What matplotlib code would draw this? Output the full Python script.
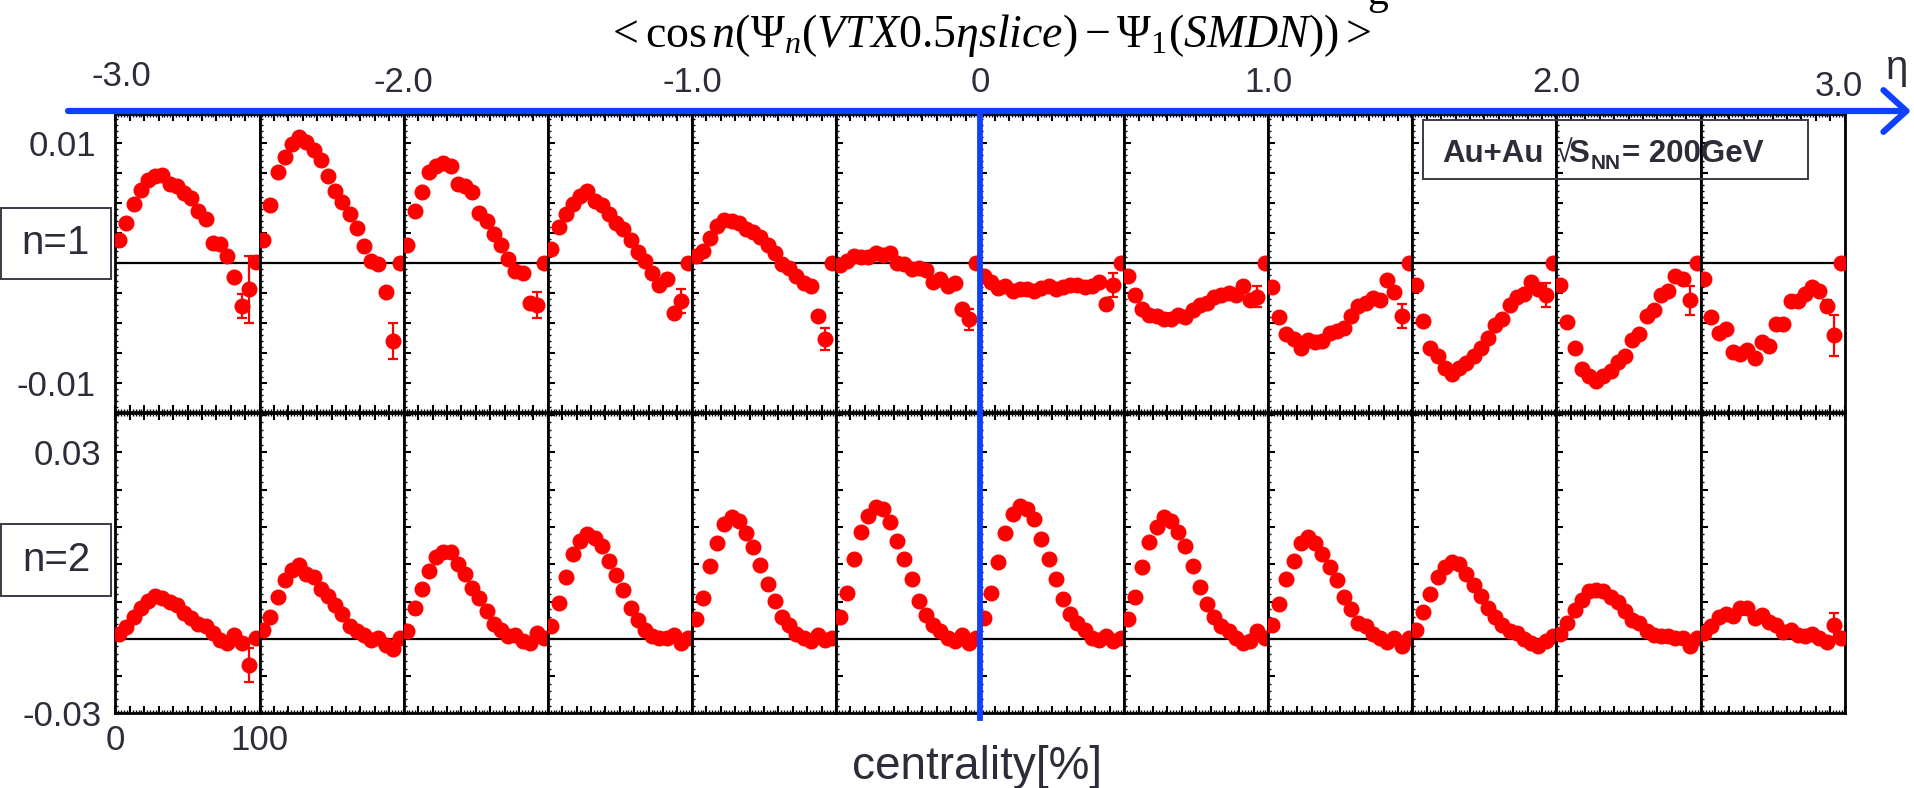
# -*- coding: utf-8 -*-
"""<cos n(Psi_n(VTX 0.5 eta slice) - Psi_1(SMDN))> vs centrality, 12 eta slices x 2 harmonics."""
import numpy as np
import matplotlib
matplotlib.use("Agg")
import matplotlib.pyplot as plt
from matplotlib.patches import Rectangle, FancyArrowPatch
from matplotlib.lines import Line2D
from matplotlib.ticker import MultipleLocator

plt.rcParams["font.family"] = ["Liberation Sans", "DejaVu Sans"]
plt.rcParams["mathtext.fontset"] = "custom"
plt.rcParams["mathtext.rm"] = "Liberation Serif"
plt.rcParams["mathtext.it"] = "Liberation Serif:italic"
plt.rcParams["mathtext.bf"] = "Liberation Sans:bold"

# centrality bin centres (%), same in every eta slice
CENT = np.arange(2.5, 100, 5)

# eta axis
ETA_TICKS = [-3.0, -2.0, -1.0, 0.0, 1.0, 2.0, 3.0]
ETA_LABELS = ["-3.0", "-2.0", "-1.0", "0", "1.0", "2.0", "3.0"]

# n=1, one list per 0.5 eta slice (from eta=-3 to 3), values x 1e-3
COS1 = [
    [1.9, 3.3, 4.9, 6.1, 6.9, 7.2, 7.3, 6.6, 6.4, 5.8, 5.4, 4.3, 3.7, 1.7, 1.6, 0.6, -1.2, -3.6, -2.2, 0.1],
    [1.9, 4.8, 7.6, 8.8, 9.9, 10.5, 10.1, 9.4, 8.6, 7.2, 6.0, 5.1, 4.1, 2.9, 1.4, 0.2, -0.1, -2.4, -6.5, 0.0],
    [1.5, 4.3, 5.9, 7.6, 8.1, 8.3, 8.1, 6.6, 6.4, 5.9, 4.2, 3.5, 2.4, 1.5, 0.3, -0.7, -0.8, -3.3, -3.5, 0.0],
    [1.2, 3.0, 4.1, 4.9, 5.6, 6.0, 5.2, 4.8, 4.1, 3.3, 2.8, 1.9, 0.9, 0.2, -0.8, -1.8, -1.3, -4.2, -3.2, 0.0],
    [0.6, 1.0, 2.1, 3.1, 3.6, 3.5, 3.3, 2.8, 2.6, 2.2, 1.5, 0.8, -0.1, -0.4, -1.1, -1.7, -1.9, -4.4, -6.3, 0.0],
    [-0.2, 0.2, 0.6, 0.5, 0.5, 0.8, 0.7, 0.8, 0.0, -0.1, -0.5, -0.4, -0.6, -1.6, -1.3, -1.9, -1.7, -3.8, -4.7, 0.0],
    [-1.1, -1.6, -2.1, -1.9, -2.3, -2.2, -2.2, -2.3, -2.1, -1.9, -2.2, -2.0, -1.8, -1.8, -2.0, -1.9, -1.6, -3.4, -1.8, 0.0],
    [-1.1, -2.7, -3.8, -4.3, -4.4, -4.7, -4.7, -4.3, -4.5, -3.9, -3.5, -3.3, -2.8, -2.7, -2.5, -2.7, -1.9, -3.1, -2.8, 0.0],
    [-2.0, -4.5, -5.9, -6.3, -7.1, -6.4, -6.6, -6.5, -5.8, -5.7, -5.4, -4.4, -3.6, -3.3, -2.9, -3.1, -1.4, -2.4, -4.4, 0.0],
    [-1.8, -4.8, -7.1, -7.7, -8.7, -9.2, -8.7, -8.3, -7.7, -7.1, -6.2, -5.2, -4.7, -3.5, -2.8, -2.6, -1.6, -2.2, -2.7, 0.0],
    [-1.8, -4.9, -7.1, -8.8, -9.4, -9.8, -9.4, -9.0, -8.2, -7.7, -6.4, -5.9, -4.4, -3.9, -2.7, -2.3, -1.1, -1.3, -3.1, 0.0],
    [-1.3, -4.5, -5.8, -5.5, -7.4, -7.6, -7.2, -7.9, -6.6, -6.9, -5.1, -5.1, -3.2, -3.2, -2.6, -2.0, -2.3, -3.6, -6.0, 0.0],
]
# visible error bars: (slice, point, err x 1e-3)
ERR1 = [(0, 17, 1.0), (0, 18, 2.8), (1, 18, 1.5), (2, 18, 1.1), (3, 18, 1.0), (4, 18, 0.9),
        (5, 18, 0.9), (6, 18, 1.0), (7, 18, 0.9), (8, 18, 1.0), (9, 18, 1.0), (10, 18, 1.2),
        (11, 17, 0.5), (11, 18, 1.7)]

# n=2, values x 1e-3
COS2 = [
    [0.8, 1.9, 3.6, 4.9, 6.1, 6.9, 6.6, 6.0, 5.4, 4.1, 3.4, 2.4, 2.0, 0.9, -0.2, -0.7, 0.6, -0.6, -4.2, 0.1],
    [1.4, 3.6, 6.8, 9.4, 11.0, 11.8, 10.5, 10.0, 8.1, 6.9, 5.4, 4.0, 2.0, 1.2, 0.6, -0.2, 0.1, -0.9, -1.6, 0.1],
    [1.3, 4.9, 8.0, 10.9, 13.2, 14.0, 14.0, 12.1, 10.4, 8.2, 6.6, 4.5, 2.4, 1.4, 0.4, 0.6, -0.4, -0.7, 0.9, 0.1],
    [2.0, 5.7, 10.0, 13.6, 15.7, 16.8, 16.2, 15.0, 12.5, 10.2, 7.8, 5.0, 3.0, 1.4, 0.5, 0.1, 0.2, 0.6, -0.6, 0.1],
    [3.2, 6.5, 11.7, 15.4, 18.4, 19.6, 19.0, 17.0, 14.7, 11.8, 8.8, 6.1, 3.5, 2.2, 0.8, 0.1, -0.4, 0.6, -0.2, 0.1],
    [3.6, 7.4, 12.8, 17.2, 19.7, 21.2, 20.9, 18.8, 15.7, 12.9, 9.6, 6.1, 3.8, 2.2, 1.3, 0.1, -0.3, 0.6, -0.7, 0.1],
    [3.4, 7.4, 12.3, 17.0, 20.0, 21.4, 20.8, 19.2, 16.1, 12.8, 9.7, 6.4, 4.0, 2.5, 1.4, 0.1, -0.2, 0.4, -0.4, 0.1],
    [3.2, 6.8, 11.6, 15.6, 18.0, 19.6, 18.9, 17.2, 15.0, 11.7, 8.4, 5.6, 3.5, 2.1, 1.2, 0.1, -0.7, -0.4, 1.3, 0.1],
    [2.2, 5.6, 9.7, 12.6, 15.4, 16.3, 15.4, 13.7, 11.6, 9.4, 6.7, 4.8, 2.5, 2.0, 0.8, 0.1, -0.5, 0.1, -1.2, 0.1],
    [1.4, 4.4, 7.2, 9.9, 11.6, 12.4, 12.1, 10.4, 8.6, 6.9, 4.9, 3.6, 2.2, 1.3, 0.9, 0.0, -0.7, -1.1, -0.4, 0.5],
    [0.8, 2.5, 4.6, 6.2, 7.7, 7.8, 7.7, 6.8, 5.9, 4.5, 3.0, 2.5, 1.3, 0.6, 0.5, 0.4, 0.1, 0.1, -1.2, 0.1],
    [0.9, 2.0, 3.6, 4.0, 3.7, 4.9, 5.0, 3.3, 3.8, 2.8, 2.2, 1.1, 1.4, 0.6, 0.5, 0.8, 0.1, -0.5, 2.2, 0.1],
]
ERR2 = [(0, 18, 2.7), (1, 18, 0.7), (11, 18, 1.9)]

RED = "#ff0000"
BLUE = "#1040ff"
TXT = "#2d2d3a"
W, H = 1915, 788


def fx(px):
    return px / W


def fy(py):
    return 1 - py / H


fig = plt.figure(figsize=(W / 100, H / 100), dpi=100)

L0, PW = 115.5, 144.1
rows = [
    dict(vals=COS1, errs=ERR1, top=114, bot=412, ylim=(-0.0124, 0.0124), major=0.0025),
    dict(vals=COS2, errs=ERR2, top=413, bot=713, ylim=(-0.0119, 0.0363), major=0.006),
]

for r, row in enumerate(rows):
    axes = []
    for i in range(12):
        ax = fig.add_axes([fx(L0 + i * PW), fy(row["bot"]), PW / W, (row["bot"] - row["top"]) / H])
        ax.axhline(0, color="black", lw=1.6, zorder=1)
        ax.plot(CENT, np.array(row["vals"][i]) * 1e-3, "o", color=RED, ms=10.5, mec=RED, zorder=3)
        ax.set_xlim(0, 100)
        ax.set_ylim(*row["ylim"])
        ax.xaxis.set_major_locator(MultipleLocator(10))
        ax.xaxis.set_minor_locator(MultipleLocator(2))
        ax.yaxis.set_major_locator(MultipleLocator(row["major"]))
        ax.yaxis.set_minor_locator(MultipleLocator(row["major"] / 5))
        ax.tick_params(which="both", direction="in", top=True, bottom=True, left=True, right=False,
                       labelleft=False, labelbottom=False, colors="black", labelcolor=TXT)
        ax.tick_params(which="major", length=5, width=1.5)
        ax.tick_params(which="minor", length=2.5, width=1.0)
        for s in ax.spines.values():
            s.set_linewidth(2.0)
        axes.append(ax)
    for p, k, e in row["errs"]:
        axes[p].errorbar(CENT[k], row["vals"][p][k] * 1e-3, yerr=e * 1e-3, fmt="none", ecolor=RED,
                         elinewidth=1.6, capsize=3.5, capthick=1.6, zorder=2)

    ax0 = axes[0]
    if r == 0:
        yt = np.arange(-0.01, 0.0101, 0.0025)
        ax0.set_yticks(yt, ["-0.01"] + [""] * (len(yt) - 2) + ["0.01"])
        ax0.tick_params(axis="y", labelleft=True, labelsize=25, pad=14)
    else:
        yt = [row["ylim"][0]] + list(np.arange(-0.006, 0.0301, 0.006))
        ax0.set_yticks(yt, ["-0.03"] + [""] * (len(yt) - 2) + ["0.03"])
        ax0.tick_params(axis="y", labelleft=True, labelsize=25, pad=10)
        ax0.set_xticks(np.arange(0, 101, 10), ["0"] + [""] * 9 + ["100"])
        ax0.tick_params(axis="x", labelbottom=True, labelsize=25, pad=8)

# eta axis: blue arrow along the top and blue line at eta = 0
fig.add_artist(FancyArrowPatch((fx(68), fy(111)), (fx(1911), fy(111)), transform=fig.transFigure,
                               arrowstyle="->,head_length=0.55,head_width=0.5", mutation_scale=30,
                               color=BLUE, lw=4.5, shrinkA=0, shrinkB=0, zorder=5))
x_eta0 = L0 + 6 * PW
fig.add_artist(Line2D([fx(x_eta0)] * 2, [fy(112), fy(718)], transform=fig.transFigure,
                      color=BLUE, lw=4.2, zorder=5))
for eta, lab in zip(ETA_TICKS, ETA_LABELS):
    px = L0 + (eta + 3.0) * 2 * PW
    if eta == -3.0:
        px, py = px + 6, 76
    elif eta == 3.0:
        px, py = px - 6, 86
    else:
        py = 83
    fig.text(fx(px), fy(py), lab, fontsize=25, color=TXT, ha="center", va="center")
fig.text(fx(1897), fy(68), "η", fontsize=29, color=TXT, ha="center", va="center")

# title (plus the clipped glyph left over above it)
fig.text(fx(989), fy(47), r"$<\cos n(\Psi_n(VTX0.5\eta slice)-\Psi_1(SMDN))>$",
         fontsize=33, color="black", ha="center", va="baseline")
fig.text(fx(1378), fy(4), "g", fontsize=30, family="Liberation Serif", color="black",
         ha="center", va="baseline")

# row labels in boxes
for lab, (y0, y1) in [("n=1", (208, 279)), ("n=2", (524, 596))]:
    fig.add_artist(Rectangle((fx(1), fy(y1)), fx(111) - fx(1), fy(y0) - fy(y1), transform=fig.transFigure,
                             fill=False, ec="#3a3a48", lw=1.4))
    fig.text(fx(56), fy((y0 + y1) / 2), lab, fontsize=29, color=TXT, ha="center", va="center")

# collision system box, text set piece by piece
fig.add_artist(Rectangle((fx(1423), fy(179)), fx(1808) - fx(1423), fy(120) - fy(179),
                         transform=fig.transFigure, fill=False, ec="#3a3a48", lw=1.4, zorder=6))
base = fy(162)
fig.text(fx(1442), base, "Au+Au", fontsize=22.5, fontweight="bold", color=TXT, va="baseline", zorder=6)
fig.text(fx(1555), base, "√", fontsize=22, color=TXT, va="baseline", zorder=6)
fig.text(fx(1568), base, "S", fontsize=22.5, fontweight="bold", color=TXT, va="baseline", zorder=6)
fig.text(fx(1591), fy(169), "NN", fontsize=15, fontweight="bold", color=TXT, va="baseline", zorder=6)
fig.text(fx(1622), base, "= 200GeV", fontsize=22.5, fontweight="bold", color=TXT, va="baseline", zorder=6)

fig.text(fx(977), fy(767), "centrality[%]", fontsize=33, color=TXT, ha="center", va="center")

fig.savefig("out.png", dpi=100)
